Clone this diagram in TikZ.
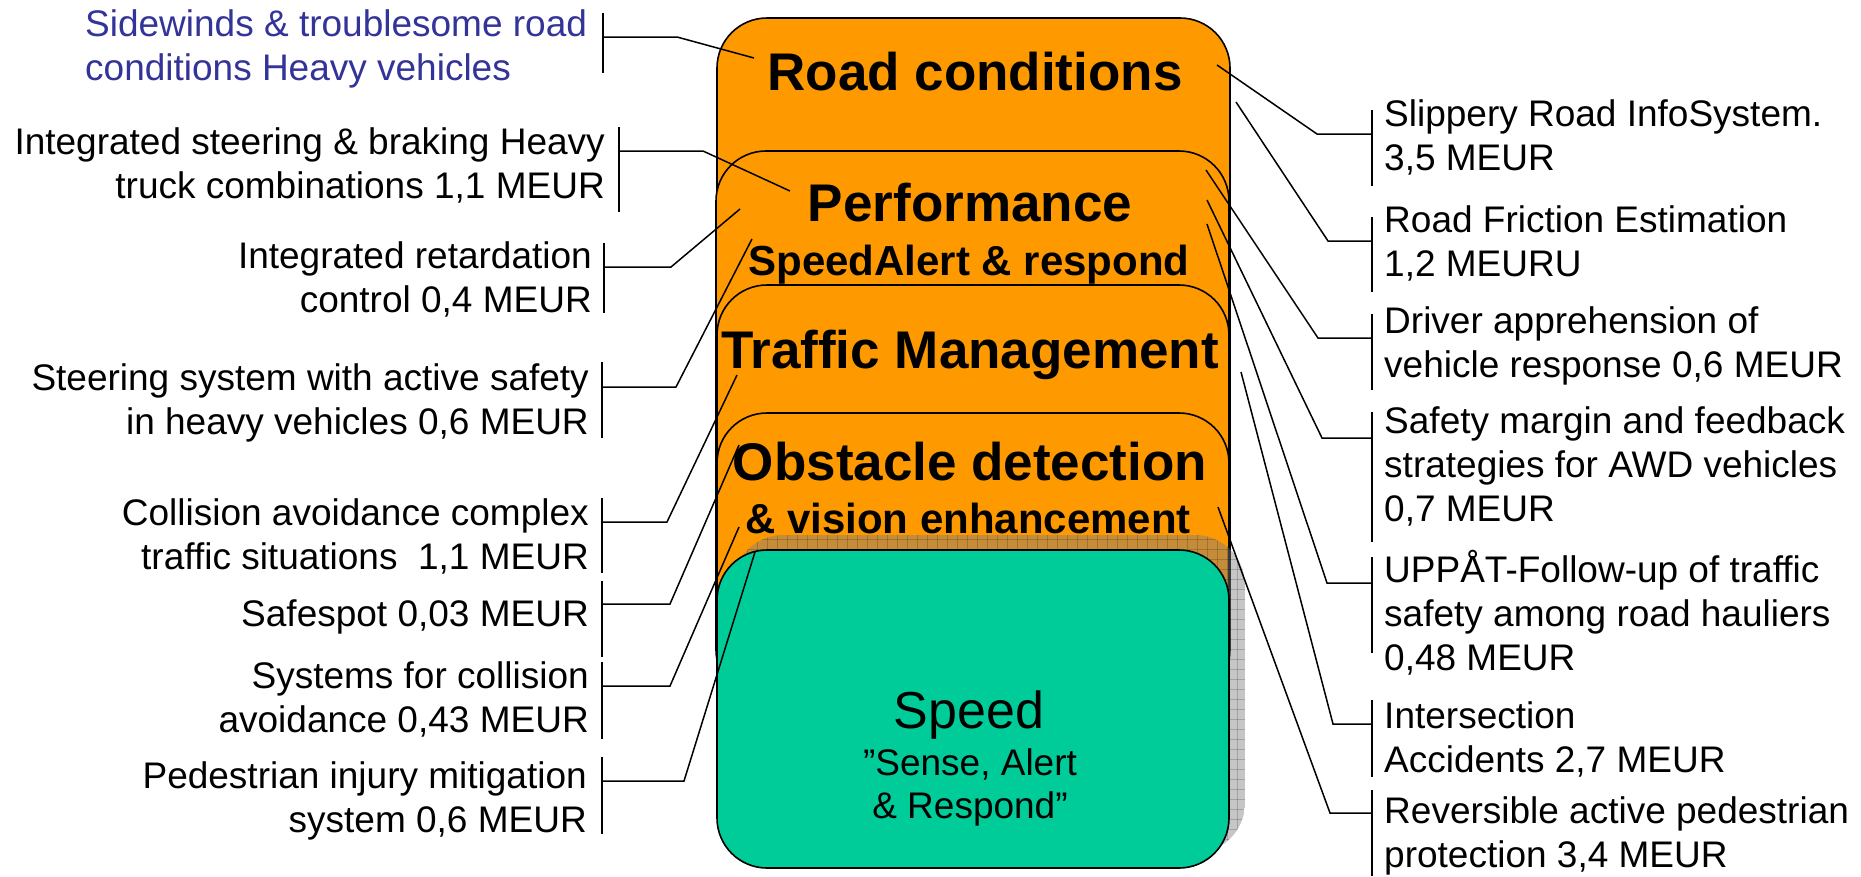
\documentclass[tikz,border=0pt]{standalone}
\usepackage{fontspec}
\setmainfont{Liberation Sans}
\definecolor{boxorange}{HTML}{FF9900}
\definecolor{boxgreen}{HTML}{00CC99}
\definecolor{labblue}{HTML}{333399}
\tikzset{
  layer/.style={draw=black, line width=1.6pt, rounded corners=50pt, fill=boxorange},
  speedbox/.style={draw=black, line width=1.6pt, rounded corners=50pt, fill=boxgreen},
  ttl/.style={inner sep=0pt, anchor=base, font=\bfseries\fontsize{53}{60}\selectfont},
  subttl/.style={inner sep=0pt, anchor=base, font=\bfseries\fontsize{42}{48}\selectfont},
  lab/.style={inner sep=0pt, font=\fontsize{37}{44}\selectfont},
  conn/.style={line width=1.5pt, line join=miter}
}
\newcommand\mkcallout[8]{%
  \coordinate (#1top) at (#2,#3);
  \coordinate (#1bot) at (#2,#4);
  \coordinate (#1tick) at (#2,#5);
  \coordinate (#1knee) at (#6,#5);
  \coordinate (#1end) at (#7,#8);
  \draw[conn] (#1top) -- (#1bot);
  \draw[conn] (#1tick) -- (#1knee) -- (#1end);
}
\begin{document}
\begin{tikzpicture}[x=1pt, y=-1pt]
\useasboundingbox (0,0) rectangle (1861,876);
% stacked layers
\path[layer] (717,18) rectangle (1230,700);
\node[ttl] (troad) at (975,90) {Road conditions};
\path[layer] (716,151) rectangle (1229,700);
\node[ttl] (tperf) at (970,221) {Performance};
\node[subttl] (tspeedalert) at (969,275) {SpeedAlert \& respond};
\path[layer] (717,285) rectangle (1229,700);
\node[ttl] (ttraffic) at (970,368) {Traffic Management};
\path[layer] (717,413) rectangle (1229,700);
\node[ttl] (tobst) at (970,480) {Obstacle detection};
\node[subttl] (tvision) at (968,533) {\& vision enhancement};
% shadow of the speed box
\begin{scope}
  \clip[rounded corners=50pt] (733,535) rectangle (1245,853);
  \fill[gray, opacity=0.45] (733,535) rectangle (1245,853);
  \foreach \gx in {737,747,...,1245} \draw[black, opacity=0.18, line width=0.6pt] (\gx,535) -- (\gx,853);
  \foreach \gy in {539,549,...,853} \draw[black, opacity=0.18, line width=0.6pt] (733,\gy) -- (1245,\gy);
\end{scope}
\path[speedbox] (717,550) rectangle (1229,868);
\node[inner sep=0pt, anchor=base, font=\fontsize{52}{60}\selectfont] (tspeed) at (969,728) {Speed};
\node[lab, anchor=base] (tsense) at (970,775) {”Sense, Alert};
\node[lab, anchor=base] (trespond) at (970,818) {\& Respond”};
% left labels
\node[lab, anchor=base west, text=labblue] (sw) at (85,36) {\begin{tabular}[t]{@{}l@{}}Sidewinds \& troublesome road\\conditions Heavy vehicles\end{tabular}};
\node[lab, anchor=base east] (isb) at (605,154) {\begin{tabular}[t]{@{}r@{}}Integrated steering \& braking Heavy\\truck combinations 1,1 MEUR\end{tabular}};
\node[lab, anchor=base east] (irc) at (592,268) {\begin{tabular}[t]{@{}r@{}}Integrated retardation\\control 0,4 MEUR\end{tabular}};
\node[lab, anchor=base east] (ssa) at (589,390) {\begin{tabular}[t]{@{}r@{}}Steering system with active safety\\in heavy vehicles 0,6 MEUR\end{tabular}};
\node[lab, anchor=base east] (cac) at (589,525) {\begin{tabular}[t]{@{}r@{}}Collision avoidance complex\\traffic situations~ 1,1 MEUR\end{tabular}};
\node[lab, anchor=base east] (sfs) at (589,626) {Safespot 0,03 MEUR};
\node[lab, anchor=base east] (sca) at (589,688) {\begin{tabular}[t]{@{}r@{}}Systems for collision\\avoidance 0,43 MEUR\end{tabular}};
\node[lab, anchor=base east] (pim) at (587,788) {\begin{tabular}[t]{@{}r@{}}Pedestrian injury mitigation\\system 0,6 MEUR\end{tabular}};
% right labels
\node[lab, anchor=base west] (sri) at (1384,126) {\begin{tabular}[t]{@{}l@{}}Slippery Road InfoSystem.\\3,5 MEUR\end{tabular}};
\node[lab, anchor=base west] (rfe) at (1384,232) {\begin{tabular}[t]{@{}l@{}}Road Friction Estimation\\1,2 MEURU\end{tabular}};
\node[lab, anchor=base west] (dav) at (1384,333) {\begin{tabular}[t]{@{}l@{}}Driver apprehension of\\vehicle response 0,6 MEUR\end{tabular}};
\node[lab, anchor=base west] (smf) at (1384,433) {\begin{tabular}[t]{@{}l@{}}Safety margin and feedback\\strategies for AWD vehicles\\0,7 MEUR\end{tabular}};
\node[lab, anchor=base west] (upp) at (1384,582) {\begin{tabular}[t]{@{}l@{}}UPPÅT-Follow-up of traffic\\safety among road hauliers\\0,48 MEUR\end{tabular}};
\node[lab, anchor=base west] (ia) at (1384,728) {\begin{tabular}[t]{@{}l@{}}Intersection\\Accidents 2,7 MEUR\end{tabular}};
\node[lab, anchor=base west] (rap) at (1384,823) {\begin{tabular}[t]{@{}l@{}}Reversible active pedestrian\\protection 3,4 MEUR\end{tabular}};
% callouts: id, bracket x, top, bottom, tick y, knee x, end x, end y
\mkcallout{L1}{603}{13}{73}{37}{677}{754}{58}
\mkcallout{L2}{619}{127}{212}{151}{703}{790}{191}
\mkcallout{L3}{604}{243}{313}{267}{671}{740}{209}
\mkcallout{L4}{602}{362}{438}{387}{676}{752}{239}
\mkcallout{L5}{602}{498}{573}{522}{667}{737}{375}
\mkcallout{L6}{602}{581}{657}{604}{670}{739}{445}
\mkcallout{L7}{602}{662}{739}{686}{670}{739}{527}
\mkcallout{L8}{602}{757}{834}{781}{684}{755}{552}
\mkcallout{R1}{1372}{110}{186}{134}{1317}{1217}{65}
\mkcallout{R2}{1372}{217}{292}{241}{1328}{1236}{102}
\mkcallout{R3}{1372}{314}{390}{338}{1318}{1206}{170}
\mkcallout{R4}{1372}{412}{542}{438}{1322}{1207}{200}
\mkcallout{R5}{1372}{557}{653}{583}{1327}{1207}{224}
\mkcallout{R6}{1372}{700}{777}{724}{1333}{1241}{372}
\mkcallout{R7}{1372}{790}{876}{813}{1330}{1218}{507}
\end{tikzpicture}
\end{document}
